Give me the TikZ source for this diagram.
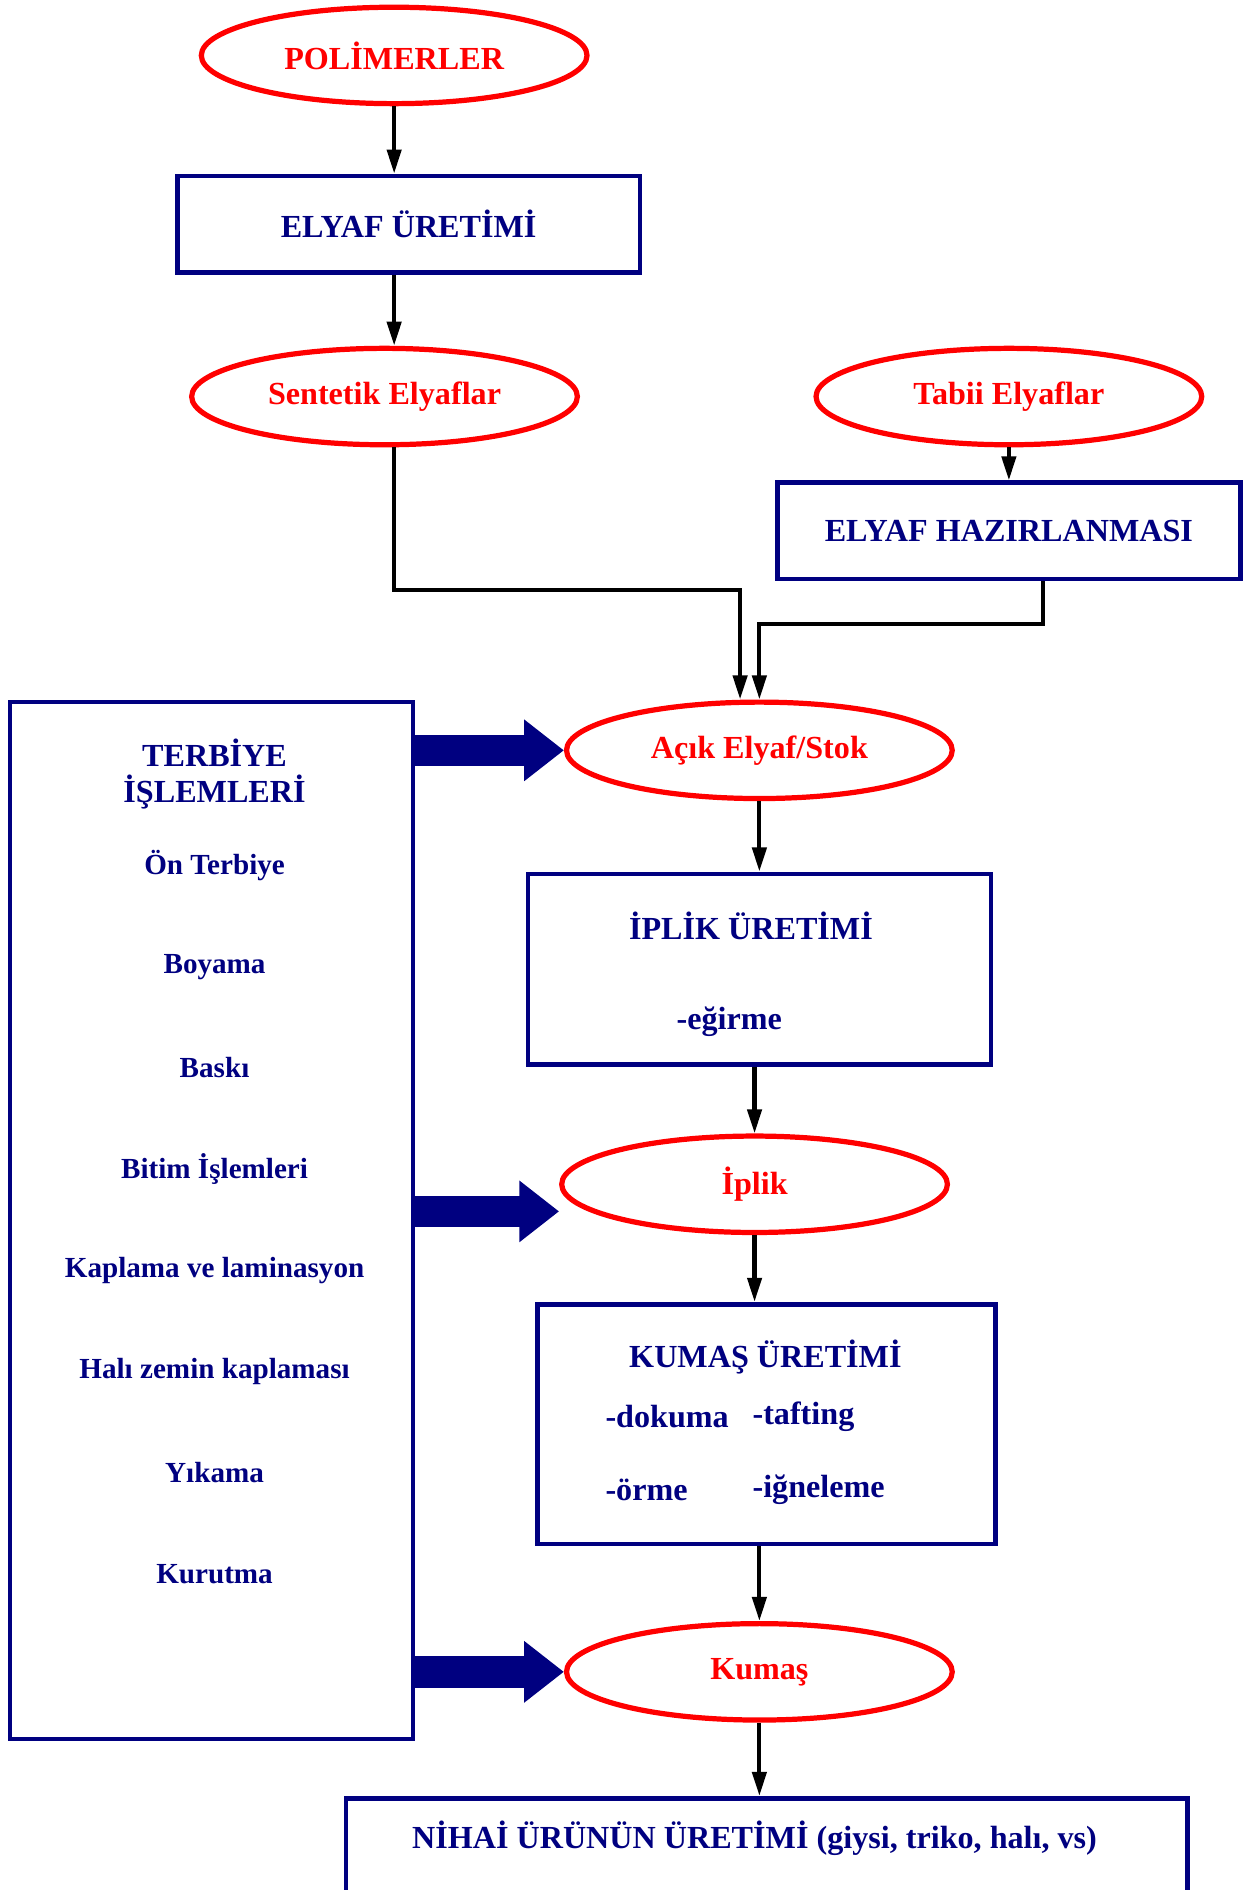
\documentclass[tikz,border=0pt]{standalone}
\usepackage{fontspec}
\setmainfont{Liberation Serif}
\usetikzlibrary{shapes.geometric,arrows.meta}
\definecolor{lacivert}{RGB}{0,0,128}
\definecolor{kirmizi}{RGB}{255,0,0}

\begin{document}
\begin{tikzpicture}[x=0.6pt,y=-0.6pt,
	oval/.style={shape=ellipse,draw=kirmizi,line width=2.6pt,minimum width=192pt,minimum height=48pt,inner sep=0pt,text=kirmizi,font=\bfseries\fontsize{16}{19}\selectfont},
	kutu/.style={shape=rectangle,draw=lacivert,line width=2.3pt,minimum width=230.4pt,minimum height=48pt,inner sep=0pt,text=lacivert,font=\bfseries\fontsize{16}{19}\selectfont},
	yazi/.style={text=lacivert,inner sep=0pt,font=\bfseries\fontsize{16}{18}\selectfont},
	islem/.style={text=lacivert,inner sep=0pt,font=\bfseries\fontsize{14.5}{17}\selectfont},
	ok/.style={draw=black,line width=2.1pt,-{Triangle[length=12pt,width=7pt]}},
	kalin/.style={draw=lacivert,line width=15.6pt,-{Triangle[length=19.8pt,width=29.4pt]}}]
	\clip (0,0) rectangle (1039,1568);

	\node[oval] (pol)      at (327,46)    {POLİMERLER};
	\node[kutu] (uretim)   at (339,186)   {ELYAF ÜRETİMİ};
	\node[oval] (sentetik) at (319,329)   {Sentetik Elyaflar};
	\node[oval] (tabii)    at (837,329)   {Tabii Elyaflar};
	\node[kutu] (hazir)    at (837,440.5) {ELYAF HAZIRLANMASI};
	\node[oval] (acik)     at (630,622.5) {Açık Elyaf/Stok};

	\node[kutu,minimum height=94.8pt] (iplikuretim) at (630,804) {};
	\node[yazi] (iplikbaslik) at (623,768) {İPLİK ÜRETİMİ};
	\node[yazi] (egirme)      at (605,848) {-eğirme};

	\node[oval] (iplik) at (626,982.5) {İplik};

	\node[kutu,minimum width=228pt,minimum height=119.4pt] (kumasuretim) at (636,1181.5) {};
	\node[yazi] (kumasbaslik)          at (635,1126) {KUMAŞ ÜRETİMİ};
	\node[yazi,anchor=west] (dokuma)   at (502,1175) {-dokuma};
	\node[yazi,anchor=west] (tafting)  at (624,1175) {-tafting};
	\node[yazi,anchor=west] (orme)     at (502,1236) {-örme};
	\node[yazi,anchor=west] (igneleme) at (624,1236) {-iğneleme};

	\node[oval] (kumas) at (630,1387) {Kumaş};

	\node[kutu,minimum width=418.8pt,minimum height=90pt,anchor=north] (nihai) at (636,1490) {};
	\node[yazi] (nihaiyazi) at (626,1525) {NİHAİ ÜRÜNÜN ÜRETİMİ (giysi, triko, halı, vs)};

	% terbiye kutusu
	\node[kutu,line width=2pt,minimum width=201pt,minimum height=516.6pt] (terbiye) at (175.5,1012.5) {};
	\node[yazi,align=center] (terbiyebaslik) at (178,642) {TERBİYE\\İŞLEMLERİ};
	\foreach \ad [count=\i] in {Ön Terbiye,Boyama,Baskı,Bitim İşlemleri,Kaplama ve laminasyon,Halı zemin kaplaması,Yıkama,Kurutma}
		\node[islem] (adim\i) at (178,{718+84*(\i-1)}) {\ad};

	\draw[ok] (pol.south) -- (pol.south |- uretim.north);
	\draw[ok] (pol.south |- uretim.south) -- (pol.south |- sentetik.north);
	\draw[ok] (tabii.south) -- (tabii.south |- hazir.north);
	\draw[ok] (pol.south |- sentetik.south) -- ++(0,118) -| ([xshift=-9.6pt]acik.north);
	\draw[ok] ([xshift=16.8pt]hazir.south) -- ++(0,35) -| (acik.north);
	\draw[ok] (acik.south) -- (acik.south |- iplikuretim.north);
	\draw[ok] (iplik.north |- iplikuretim.south) -- (iplik.north);
	\draw[ok] (iplik.south) -- (iplik.south |- kumasuretim.north);
	\draw[ok] (kumas.north |- kumasuretim.south) -- (kumas.north);
	\draw[ok] (kumas.south) -- (kumas.south |- nihai.north);

	\draw[kalin] (terbiye.east |- acik.west) -- (acik.west);
	\draw[kalin] (terbiye.east |- 0,1005) -- (iplik.west |- 0,1005);
	\draw[kalin] (terbiye.east |- kumas.west) -- (kumas.west);
\end{tikzpicture}
\end{document}
